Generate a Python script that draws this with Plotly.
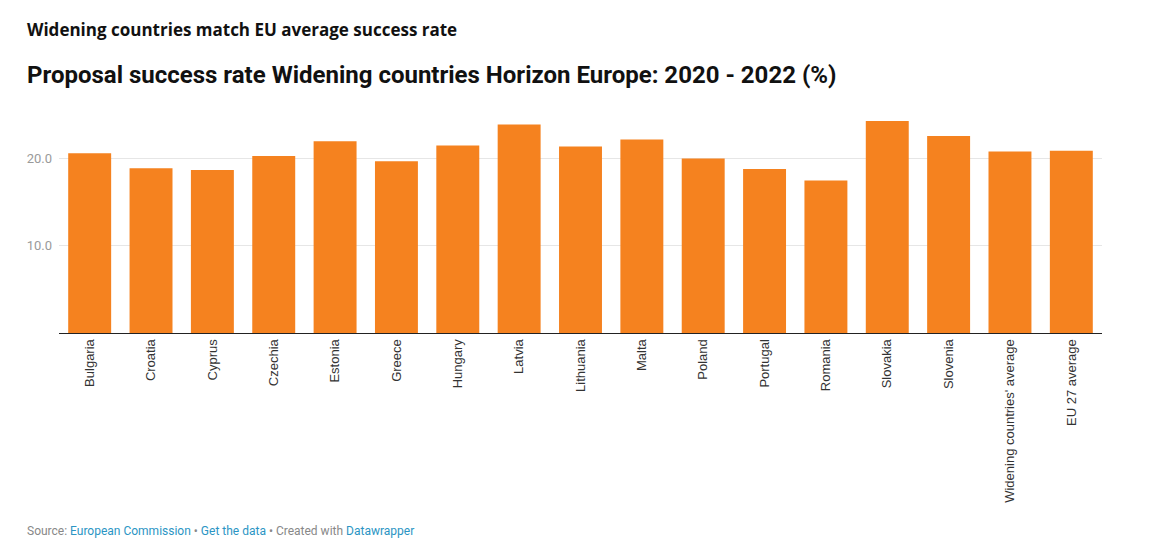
import plotly.graph_objects as go

# Proposal success rate (%), Horizon Europe 2020-2022
countries = [
    "Bulgaria", "Croatia", "Cyprus", "Czechia", "Estonia", "Greece",
    "Hungary", "Latvia", "Lithuania", "Malta", "Poland", "Portugal",
    "Romania", "Slovakia", "Slovenia", "Widening countries' average",
    "EU 27 average",
]
success_rate = [
    20.6, 18.9, 18.7, 20.3, 22.0, 19.7,
    21.5, 23.9, 21.4, 22.2, 20.0, 18.8,
    17.5, 24.3, 22.6, 20.8, 20.9,
]
y_ticks = [10, 20]
y_ticklabels = ["10.0", "20.0"]

BAR_COLOR = "#F5821F"

fig = go.Figure(go.Bar(
    x=countries,
    y=success_rate,
    marker=dict(color=BAR_COLOR, line=dict(width=0)),
    hovertemplate="%{x}: %{y:.1f}%<extra></extra>",
))

fig.update_layout(
    width=1160,
    height=558,
    # page has an 8px body margin, so the plot box is shifted back by that much
    margin=dict(l=51, r=66, t=107, b=233),
    paper_bgcolor="white",
    plot_bgcolor="white",
    bargap=0.3,
    showlegend=False,
    xaxis=dict(
        tickangle=-90,
        tickfont=dict(family="Liberation Sans, Arial, sans-serif", size=13, color="#333333"),
        showline=True,
        linecolor="#222222",
        linewidth=1,
        ticks="",
        showgrid=False,
    ),
    yaxis=dict(
        range=[0, 25],
        tickvals=y_ticks,
        ticktext=y_ticklabels,
        tickfont=dict(family="Roboto, sans-serif", size=13, color="#9a9a9a"),
        showgrid=True,
        gridcolor="#e6e6e6",
        gridwidth=1,
        zeroline=False,
        ticks="",
        ticklabelstandoff=6,
    ),
    annotations=[
        dict(
            text="<b>Widening countries match EU average success rate</b>",
            xref="paper", yref="paper", x=-0.0326, y=1.39,
            xanchor="left", yanchor="middle", showarrow=False,
            font=dict(family="Open Sans, sans-serif", size=17, color="#111111"),
        ),
        dict(
            text="<b>Proposal success rate Widening countries Horizon Europe: 2020 - 2022 (%)</b>",
            xref="paper", yref="paper", x=-0.0326, y=1.183,
            xanchor="left", yanchor="middle", showarrow=False,
            font=dict(family="Roboto, sans-serif", size=24, color="#111111"),
        ),
        dict(
            text=("Source: <span style='color:#2b95c4'>European Commission</span>"
                  " • <span style='color:#2b95c4'>Get the data</span>"
                  " • Created with <span style='color:#2b95c4'>Datawrapper</span>"),
            xref="paper", yref="paper", x=-0.0326, y=-0.908,
            xanchor="left", yanchor="middle", showarrow=False,
            font=dict(family="Roboto, sans-serif", size=12, color="#888888"),
        ),
    ],
)

fig.write_html("out.html")
